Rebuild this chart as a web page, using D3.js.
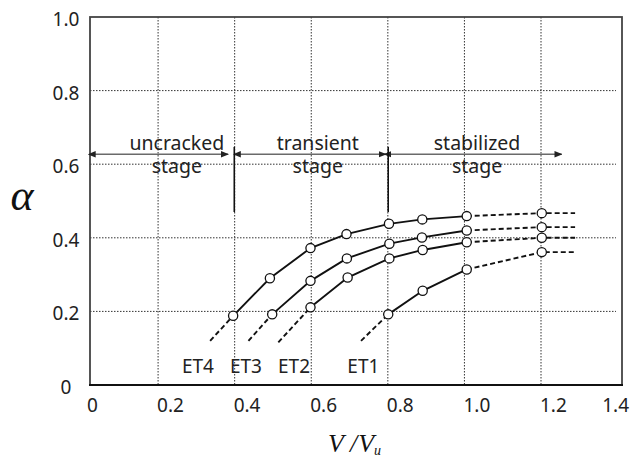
<!DOCTYPE html>
<html>
<head>
<meta charset="utf-8">
<script src="https://cdn.jsdelivr.net/npm/d3@7"></script>
<style>
  html, body { margin: 0; padding: 0; background: #fff; }
  svg { display: block; }
</style>
</head>
<body>
<svg id="chart" width="630" height="457"></svg>
<script>
// ---------------- data ----------------
const xTicks = [0, 0.2, 0.4, 0.6, 0.8, 1.0, 1.2, 1.4];
const xTickLabels = ["0", "0.2", "0.4", "0.6", "0.8", "1.0", "1.2", "1.4"];
const yTicks = [0, 0.2, 0.4, 0.6, 0.8, 1.0];
const yTickLabels = ["0", "0.2", "0.4", "0.6", "0.8", "1.0"];
const xGrid = [0.2, 0.4, 0.6, 0.8, 1.0, 1.2];
const yGrid = [0.2, 0.4, 0.6, 0.8];

const seriesNames = ["ET4", "ET3", "ET2", "ET1"];
const et4V = [0.396, 0.492, 0.598, 0.692, 0.803, 0.890, 1.006, 1.202];
const et4A = [0.188, 0.290, 0.372, 0.410, 0.438, 0.450, 0.459, 0.467];
const et3V = [0.498, 0.598, 0.693, 0.804, 0.889, 1.006, 1.202];
const et3A = [0.192, 0.283, 0.344, 0.384, 0.401, 0.420, 0.429];
const et2V = [0.598, 0.695, 0.804, 0.891, 1.006, 1.202];
const et2A = [0.211, 0.292, 0.344, 0.367, 0.388, 0.400];
const et1V = [0.801, 0.891, 1.006, 1.202];
const et1A = [0.192, 0.256, 0.314, 0.361];
// dashed lead-in start point (V, alpha) for each series
const leadV = [0.336, 0.436, 0.514, 0.730];
const leadA = [0.120, 0.120, 0.116, 0.120];
const tailV = 1.289;          // dashed extrapolation end
const solidLimitV = 1.01;     // solid up to V/Vu = 1.0
// series label positions (V, alpha)
const labelV = [0.304, 0.4295, 0.555, 0.736];
const labelA = [0.033, 0.033, 0.033, 0.033];

// stage annotations
const stageLine1 = ["uncracked", "transient", "stabilized"];
const stageLine2 = ["stage", "stage", "stage"];
const stageCenterV = [0.249, 0.617, 1.033];
const stageLine1A = 0.638;
const stageLine2A = 0.577;
const arrowFromV = [0.035, 0.414, 0.807];
const arrowToV = [0.383, 0.795, 1.254];
const arrowA = 0.627;
const boundaryV = [0.399, 0.801];
const boundaryA = [0.470, 0.647];

// ---------------- layout ----------------
const W = 630, H = 457;
const frame = { left: 90, right: 622, top: 17, bottom: 385 };
const svg = d3.select("#chart");

const x = d3.scaleLinear().domain([0, 1.4]).range([81.5, 617.6]);
const y = d3.scaleLinear().domain([0, 1]).range([385, 17]);

const sansFont = "'Noto Sans', 'DejaVu Sans', sans-serif";
const serifFont = "'Liberation Serif', 'DejaVu Serif', serif";

// defs: arrowheads
const defs = svg.append("defs");
["start", "end"].forEach(k => {
  defs.append("marker")
    .attr("id", "arrow-" + k)
    .attr("viewBox", "0 0 10 10")
    .attr("refX", k === "end" ? 9 : 1).attr("refY", 5)
    .attr("markerWidth", 5).attr("markerHeight", 5)
    .attr("markerUnits", "strokeWidth")
    .attr("orient", "auto-start-reverse")
    .append("path")
    .attr("d", "M0,1 L10,5 L0,9 Z")
    .attr("fill", "#222");
});

// gridlines
const grid = svg.append("g").attr("stroke", "#333").attr("stroke-width", 1)
  .attr("stroke-dasharray", "1.5,1.5").attr("fill", "none");
grid.selectAll("line.v").data(xGrid).join("line").attr("class", "v")
  .attr("x1", d => x(d)).attr("x2", d => x(d))
  .attr("y1", frame.top).attr("y2", frame.bottom);
grid.selectAll("line.h").data(yGrid).join("line").attr("class", "h")
  .attr("x1", frame.left).attr("x2", frame.right - 6)
  .attr("y1", d => y(d)).attr("y2", d => y(d));

// frame
svg.append("rect")
  .attr("x", frame.left).attr("y", frame.top)
  .attr("width", frame.right - frame.left).attr("height", frame.bottom - frame.top)
  .attr("fill", "none").attr("stroke", "#444").attr("stroke-width", 1.8);
svg.append("line")
  .attr("x1", frame.left - 1).attr("x2", frame.right + 1)
  .attr("y1", frame.bottom).attr("y2", frame.bottom)
  .attr("stroke", "#111").attr("stroke-width", 2);

// tick labels
svg.append("g").selectAll("text").data(xTicks).join("text")
  .attr("y", 412)
  .attr("text-anchor", "start")
  .attr("font-family", sansFont).attr("font-size", 19).attr("fill", "#222")
  .text((d, i) => xTickLabels[i])
  .each(function (d) {
    const w = this.getComputedTextLength();
    const px = Math.max(frame.left - 3, Math.min(x(d) - 1, W - 1 - w));
    d3.select(this).attr("x", px);
  });
svg.append("g").selectAll("text").data(yTicks).join("text")
  .attr("x", 66)
  .attr("y", d => y(d) + 9)
  .attr("text-anchor", "middle")
  .attr("font-family", sansFont).attr("font-size", 19).attr("fill", "#222")
  .text((d, i) => yTickLabels[i]);

// axis titles
svg.append("text")
  .attr("x", 22).attr("y", 210).attr("text-anchor", "middle")
  .attr("font-family", serifFont).attr("font-style", "italic")
  .attr("font-size", 44).attr("fill", "#111")
  .text("α");
const xt = svg.append("text")
  .attr("x", 328).attr("y", 452)
  .attr("font-family", serifFont).attr("font-style", "italic")
  .attr("font-size", 26).attr("fill", "#111");
xt.append("tspan").text("V  /");
xt.append("tspan").attr("dx", 1).text("V");
xt.append("tspan").attr("dy", 3).attr("font-size", 14).text("u");

// stage annotations
const ann = svg.append("g");
ann.selectAll("line.arr").data(arrowFromV).join("line").attr("class", "arr")
  .attr("x1", d => x(d)).attr("x2", (d, i) => x(arrowToV[i]))
  .attr("y1", y(arrowA)).attr("y2", y(arrowA))
  .attr("stroke", "#6a6a6a").attr("stroke-width", 1.6)
  .attr("marker-start", "url(#arrow-start)")
  .attr("marker-end", "url(#arrow-end)");
ann.selectAll("line.bnd").data(boundaryV).join("line").attr("class", "bnd")
  .attr("x1", d => x(d)).attr("x2", d => x(d))
  .attr("y1", y(boundaryA[0])).attr("y2", y(boundaryA[1]))
  .attr("stroke", "#111").attr("stroke-width", 1.6);
ann.selectAll("text.l1").data(stageLine1).join("text").attr("class", "l1")
  .attr("x", (d, i) => x(stageCenterV[i])).attr("y", y(stageLine1A))
  .attr("text-anchor", "middle")
  .attr("font-family", sansFont).attr("font-size", 19.5).attr("fill", "#222")
  .text(d => d);
ann.selectAll("text.l2").data(stageLine2).join("text").attr("class", "l2")
  .attr("x", (d, i) => x(stageCenterV[i])).attr("y", y(stageLine2A))
  .attr("text-anchor", "middle")
  .attr("font-family", sansFont).attr("font-size", 19.5).attr("fill", "#222")
  .text(d => d);

// series
const seriesV = [et4V, et3V, et2V, et1V];
const seriesA = [et4A, et3A, et2A, et1A];
const line = d3.line().x(d => x(d[0])).y(d => y(d[1]));
const gS = svg.append("g").attr("fill", "none").attr("stroke", "#111");

seriesV.forEach((vs, si) => {
  const pts = vs.map((v, i) => [v, seriesA[si][i]]);
  const solid = pts.filter(p => p[0] <= solidLimitV);
  const lastSolid = solid[solid.length - 1];
  const dashed = [lastSolid].concat(pts.filter(p => p[0] > solidLimitV));
  dashed.push([tailV, pts[pts.length - 1][1]]);
  const lead = [[leadV[si], leadA[si]], pts[0]];

  gS.append("path").attr("d", line(solid)).attr("stroke-width", 1.9);
  gS.append("path").attr("d", line(dashed)).attr("stroke-width", 1.9)
    .attr("stroke-dasharray", "5,3");
  gS.append("path").attr("d", line(lead)).attr("stroke-width", 1.9)
    .attr("stroke-dasharray", "5,3");

  svg.append("g").selectAll("circle").data(pts).join("circle")
    .attr("cx", d => x(d[0])).attr("cy", d => y(d[1])).attr("r", 4.6)
    .attr("fill", "#fff").attr("stroke", "#111").attr("stroke-width", 1.3);
});

// series labels
svg.append("g").selectAll("text").data(seriesNames).join("text")
  .attr("x", (d, i) => x(labelV[i])).attr("y", (d, i) => y(labelA[i]))
  .attr("text-anchor", "middle")
  .attr("font-family", sansFont).attr("font-size", 19).attr("fill", "#222")
  .text(d => d);
</script>
</body>
</html>
